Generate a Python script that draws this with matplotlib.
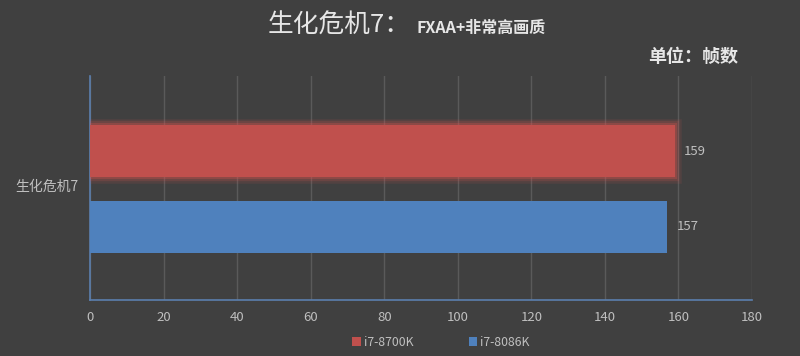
import matplotlib.pyplot as plt
import matplotlib.patheffects as pe

plt.rcParams['font.family'] = ['Noto Sans CJK SC', 'DejaVu Sans']

category = '生化危机7'
series = ['i7-8700K', 'i7-8086K']
values = [159, 157]
colors = ['#C0504D', '#4F81BD']
xticks = [0, 20, 40, 60, 80, 100, 120, 140, 160, 180]

bg = '#404040'
fig = plt.figure(figsize=(8, 3.56), dpi=100, facecolor=bg)
ax = fig.add_axes([0.1125, 0.157, 0.8275, 0.629], facecolor=bg)

ypos = [0.665, 0.328]
for i, (name, v, c) in enumerate(zip(series, values, colors)):
    b = ax.barh(ypos[i], v, height=0.232, color=c, label=name, zorder=3)
    if i == 0:
        for p in b:
            p.set_path_effects([pe.Stroke(linewidth=9, foreground='#d9534f', alpha=0.12),
                                pe.Stroke(linewidth=6, foreground='#d9534f', alpha=0.18),
                                pe.Stroke(linewidth=3, foreground='#d9534f', alpha=0.3),
                                pe.Normal()])
    ax.text(v + 2.5, ypos[i], str(v), va='center', ha='left', color='#BFBFBF', fontsize=9.5)

ax.set_xlim(0, 180)
ax.set_ylim(0, 1)
ax.set_xticks(xticks)
ax.set_xticklabels([str(t) for t in xticks], color='#BFBFBF', fontsize=9.5)
ax.set_yticks([])
ax.tick_params(axis='x', length=0, pad=8)
ax.grid(axis='x', color='#5a5a5a', lw=1, zorder=0)
for s in ['top', 'right']:
    ax.spines[s].set_visible(False)
for s in ['left', 'bottom']:
    ax.spines[s].set_color('#5b7fae')
    ax.spines[s].set_linewidth(1.2)

fig.text(15 / 800, 1 - 187 / 356, category, color='#BFBFBF', fontsize=10, va='center', ha='left')

fig.text(268 / 800, 1 - 26 / 356, '生化危机7：', color='#E6E6E6', fontsize=18.5, va='center', ha='left')
fig.text(417 / 800, 1 - 28 / 356, 'FXAA+非常高画质', color='#E6E6E6', fontsize=11.5,
         fontweight='bold', va='center', ha='left')
fig.text(648 / 800, 1 - 56 / 356, '单位：帧数', color='#E6E6E6', fontsize=13,
         fontweight='bold', va='center', ha='left')

leg = fig.legend(loc='center', bbox_to_anchor=(441 / 800, 1 - 342 / 356), ncol=2, frameon=False,
                 fontsize=8.8, handlelength=0.7, handleheight=0.7, handletextpad=0.25,
                 columnspacing=4.5)
for t in leg.get_texts():
    t.set_color('#BFBFBF')
for h in leg.legend_handles:
    h.set_path_effects([])

plt.savefig('out.png', dpi=100, facecolor=bg)
